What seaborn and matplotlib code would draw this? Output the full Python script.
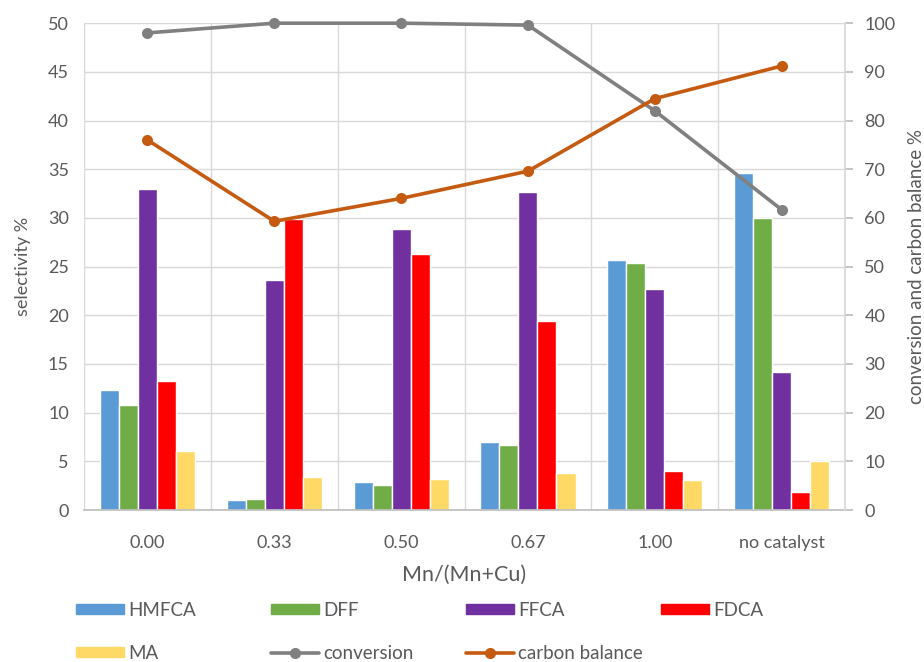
import matplotlib
matplotlib.use("Agg")
import matplotlib.pyplot as plt
import seaborn as sns
import pandas as pd
import numpy as np
from matplotlib.lines import Line2D
from matplotlib.patches import Patch

categories = ["0.00", "0.33", "0.50", "0.67", "1.00", "no catalyst"]
hmfca = [12.3, 1.0, 2.9, 7.0, 25.7, 34.6]
dff = [10.8, 1.1, 2.6, 6.7, 25.4, 30.0]
ffca = [33.0, 23.6, 28.9, 32.7, 22.7, 14.2]
fdca = [13.2, 29.9, 26.3, 19.4, 4.0, 1.9]
ma = [6.1, 3.4, 3.2, 3.8, 3.1, 5.0]
conversion = [98.0, 100.0, 100.0, 99.6, 82.0, 61.7]
carbon_balance = [76.0, 59.3, 64.0, 69.6, 84.5, 91.2]

series_names = ["HMFCA", "DFF", "FFCA", "FDCA", "MA"]
series_vals = [hmfca, dff, ffca, fdca, ma]
colors = ["#5B9BD5", "#70AD47", "#7030A0", "#FF0000", "#FFD966"]
grey = "#808080"
orange = "#C55A11"
txt = "#595959"

sns.set_theme(style="white")
plt.rcParams["font.family"] = ["Lato", "DejaVu Sans"]

rows = []
for name, vals in zip(series_names, series_vals):
    for c, v in zip(categories, vals):
        rows.append({"cat": c, "series": name, "value": v})
df = pd.DataFrame(rows)
ldf = pd.DataFrame({"cat": categories, "conversion": conversion, "carbon": carbon_balance})

fig = plt.figure(figsize=(9.24, 6.62), dpi=100)
ax = fig.add_axes([0.091, 0.2296, 0.8235, 0.7354])
sns.barplot(data=df, x="cat", y="value", hue="series", palette=colors,
            order=categories, hue_order=series_names, width=0.75, ax=ax,
            saturation=1, legend=False, errorbar=None)
ax.set_ylim(0, 50)
ax.set_yticks(np.arange(0, 51, 5))
ax.set_xlim(-0.5, 5.5)
ax.yaxis.grid(True, color="#D9D9D9", linewidth=1)
ax.set_xticks(np.arange(-0.5, 6, 1), minor=True)
ax.xaxis.grid(True, which="minor", color="#D9D9D9", linewidth=1)
ax.set_axisbelow(True)
for s in ["top", "right", "left"]:
    ax.spines[s].set_visible(False)
ax.spines["bottom"].set_color("#BFBFBF")
ax.tick_params(axis="x", which="major", length=0, pad=18, labelsize=13, labelcolor=txt)
ax.tick_params(axis="x", which="minor", length=9, color="#BFBFBF", direction="out")
ax.tick_params(axis="y", length=0, labelsize=13, labelcolor=txt, pad=11)
ax.set_xlabel("Mn/(Mn+Cu)", fontsize=15.5, color=txt, labelpad=10)
ax.set_ylabel("selectivity %", fontsize=13, color=txt, labelpad=12)

ax2 = ax.twinx()
sns.pointplot(data=ldf, x="cat", y="conversion", order=categories, color=grey,
              markers="o", linestyles="-", ax=ax2, markersize=6, linewidth=2.6,
              errorbar=None)
sns.pointplot(data=ldf, x="cat", y="carbon", order=categories, color=orange,
              markers="o", linestyles="-", ax=ax2, markersize=6, linewidth=2.6,
              errorbar=None)
ax2.set_xlim(-0.5, 5.5)
ax2.set_ylim(0, 100)
ax2.set_yticks(np.arange(0, 101, 10))
for s in ["top", "left", "bottom"]:
    ax2.spines[s].set_visible(False)
ax2.spines["right"].set_color("#D9D9D9")
ax2.tick_params(axis="y", length=6, color="#BFBFBF", labelsize=13, labelcolor=txt, pad=8)
ax2.set_ylabel("conversion and carbon balance %", fontsize=13.5, color=txt, labelpad=9)
ax2.grid(False)
for ln in ax2.lines:
    ln.set_clip_on(False)
for coll in ax2.collections:
    coll.set_clip_on(False)

patches = [Patch(color=c) for c in colors]
h_conv = Line2D([], [], color=grey, marker="o", linewidth=2.6, markersize=7)
h_cb = Line2D([], [], color=orange, marker="o", linewidth=2.6, markersize=7)
columns = [
    ([patches[0], patches[4]], ["HMFCA", "MA"]),
    ([patches[1], h_conv], ["DFF", "conversion"]),
    ([patches[2], h_cb], ["FFCA", "carbon balance"]),
    ([patches[3]], ["FDCA"]),
]
xs = [76, 271, 466, 661]
for (hs, ls), xp in zip(columns, xs):
    leg = fig.legend(hs, ls, loc="upper left", bbox_to_anchor=(xp / 924, 1 - 602 / 662),
                     frameon=False, fontsize=13.5, handlelength=2.55, handleheight=0.45,
                     labelspacing=1.38, handletextpad=0.25, borderpad=0, borderaxespad=0)
    for t in leg.get_texts():
        t.set_color(txt)

fig.savefig("out.png", dpi=100)
